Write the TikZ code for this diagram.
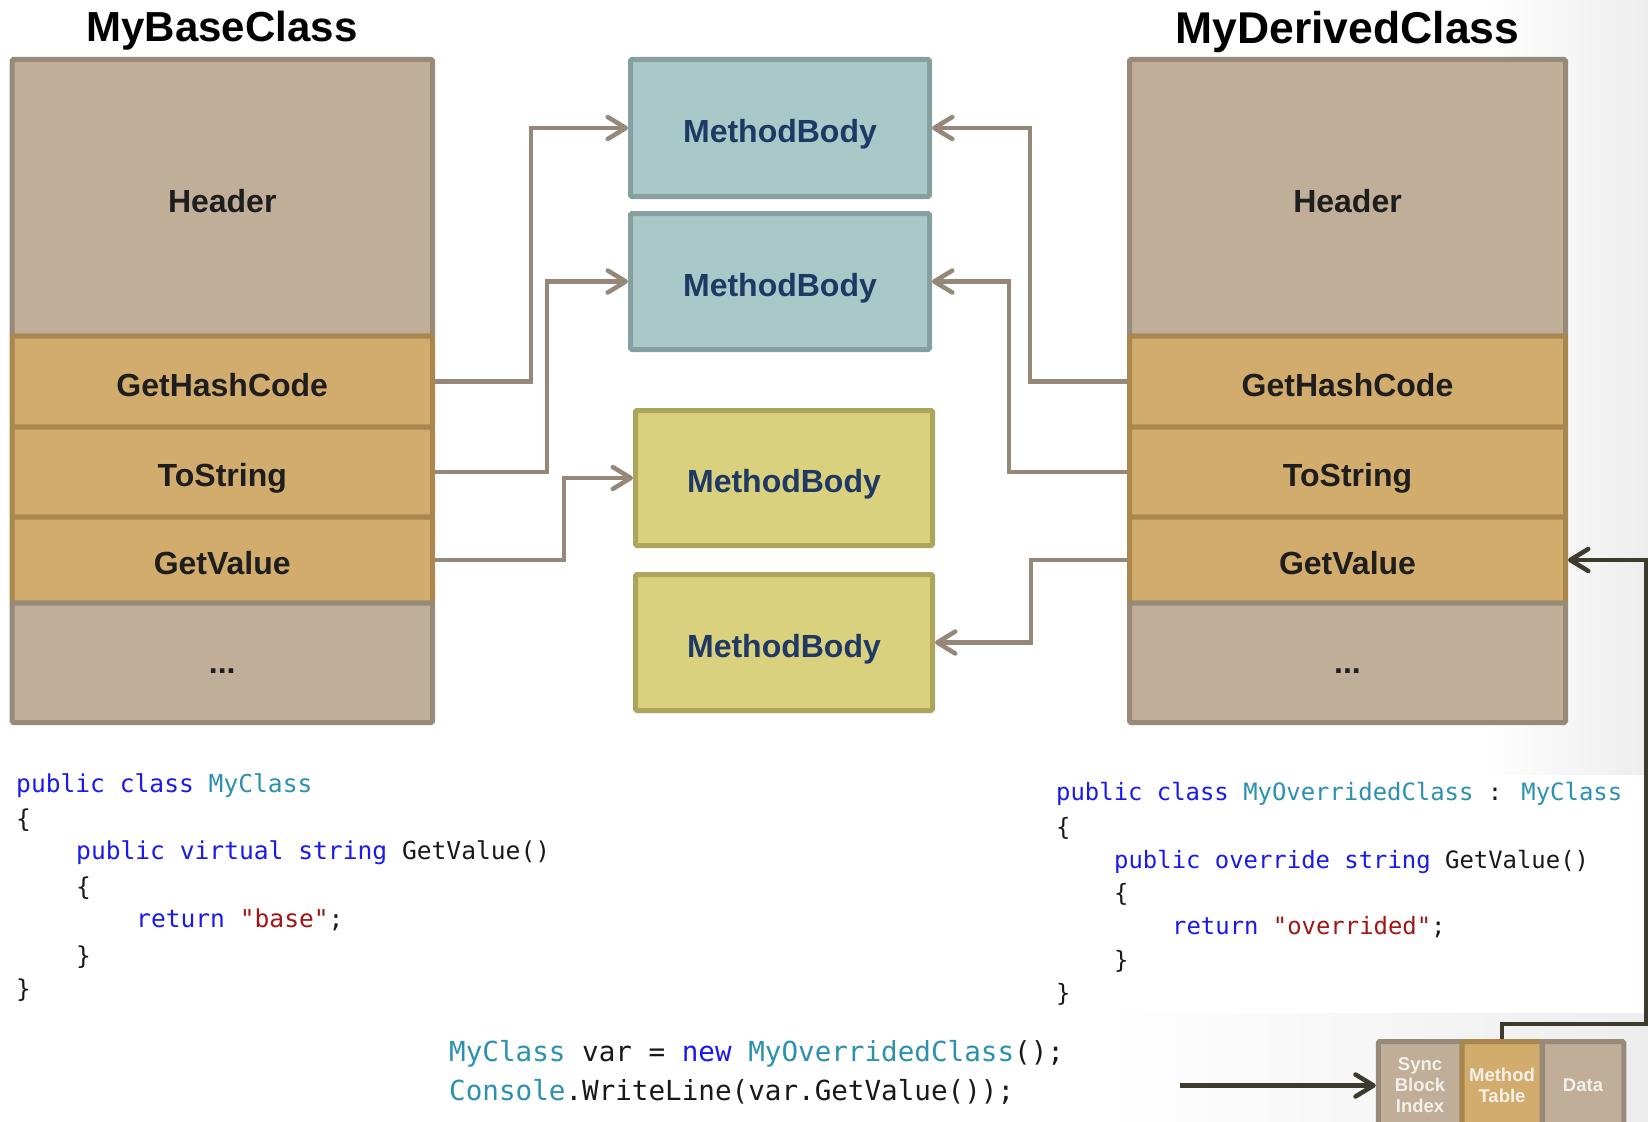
\documentclass[tikz,border=0pt]{standalone}
\usepackage{fontspec}
\setmainfont{Liberation Sans}
\newfontfamily\codefont{DejaVu Sans Mono}
\usetikzlibrary{arrows.meta}

\definecolor{slotgray}{HTML}{C0AE99}
\definecolor{slotgrayline}{HTML}{978A78}
\definecolor{slottan}{HTML}{D2AC6D}
\definecolor{slottanline}{HTML}{A8884F}
\definecolor{bodyteal}{HTML}{ABC8C8}
\definecolor{bodytealline}{HTML}{86A09F}
\definecolor{bodyyel}{HTML}{D9D17D}
\definecolor{bodyyelline}{HTML}{ADA55B}
\definecolor{bodytext}{HTML}{1F3864}
\definecolor{labeltext}{HTML}{1E1E1E}
\definecolor{connline}{HTML}{968878}
\definecolor{darkline}{HTML}{3D3A2E}
\definecolor{objtext}{HTML}{F3F0EA}
\definecolor{kw}{HTML}{1A1AF0}
\definecolor{ty}{HTML}{2B91AF}
\definecolor{str}{HTML}{A31515}

\tikzset{
  slot/.style={draw, line width=5pt, inner sep=0pt, rounded corners=1.5pt,
    text=labeltext, text height=29pt, text depth=0pt,
    font=\fontsize{32}{38}\selectfont\bfseries},
  hdr/.style={slot, fill=slotgray, draw=slotgrayline},
  dots/.style={hdr, text height=22pt},
  mrow/.style={slot, fill=slottan, draw=slottanline},
  mbody/.style={slot, text=bodytext, minimum width=299pt, minimum height=136pt},
  mbteal/.style={mbody, fill=bodyteal, draw=bodytealline},
  mbyel/.style={mbody, fill=bodyyel, draw=bodyyelline, minimum width=297pt},
  ttl/.style={inner sep=0pt, anchor=base, text=black,
    font=\fontsize{42}{48}\selectfont\bfseries},
  conn/.style={draw=connline, line width=4.5pt,
    -{Straight Barb[length=18pt,width=22pt,round]}},
  darkconn/.style={draw=darkline, line width=4.5pt,
    -{Straight Barb[length=18pt,width=22pt,round]}},
  objbox/.style={draw, line width=5pt, inner sep=0pt, rounded corners=1.5pt,
    minimum height=88pt, align=center, text=objtext,
    font=\fontsize{18.5}{21}\selectfont\bfseries},
  codeL/.style={anchor=base west, inner sep=0pt, text=black!90,
    font=\codefont\fontsize{24.6}{30}\selectfont},
  codeR/.style={codeL, font=\codefont\fontsize{23.9}{30}\selectfont},
  codeB/.style={codeL, font=\codefont\fontsize{27.6}{34}\selectfont},
}

\begin{document}
\begin{tikzpicture}[x=1pt, y=-1pt]
  \useasboundingbox (0,0) rectangle (1648,1121);
  \clip (0,0) rectangle (1648,1121);
  \fill[white] (0,0) rectangle (1648,1121);
  % soft grey edge of the slide
  \shade[left color=white, right color=black!7] (1480,0) rectangle (1648,1121);
  \shade[left color=white, right color=black!7] (1100,1013) rectangle (1648,1121);
  \fill[white] (1040,775) rectangle (1648,1013);

  % titles
  \node[ttl] (tbase) at (222,41.5) {MyBaseClass};
  \node[ttl, font=\fontsize{44.5}{50}\selectfont\bfseries] (tderived) at (1347.5,43.5) {MyDerivedClass};

  % method table of the base class
  \node[hdr,  minimum width=420.5pt, minimum height=276.5pt] (lH)   at (222.25,197.75) {Header};
  \node[mrow, minimum width=420.5pt, minimum height=91pt]    (lGHC) at (222.25,381.5)  {GetHashCode};
  \node[mrow, minimum width=420.5pt, minimum height=90pt]    (lTS)  at (222.25,472)    {ToString};
  \node[mrow, minimum width=420.5pt, minimum height=86pt]    (lGV)  at (222.25,560)    {GetValue};
  \node[dots, minimum width=420.5pt, minimum height=119.5pt] (lDot) at (222.25,662.75) {...};

  % method table of the derived class
  \node[hdr,  minimum width=436pt, minimum height=276.5pt] (rH)   at (1347.5,197.75) {Header};
  \node[mrow, minimum width=436pt, minimum height=91pt]    (rGHC) at (1347.5,381.5)  {GetHashCode};
  \node[mrow, minimum width=436pt, minimum height=90pt]    (rTS)  at (1347.5,472)    {ToString};
  \node[mrow, minimum width=436pt, minimum height=86pt]    (rGV)  at (1347.5,560)    {GetValue};
  \node[dots, minimum width=436pt, minimum height=119.5pt] (rDot) at (1347.5,662.75) {...};

  % method bodies
  \node[mbteal, minimum height=137pt] (mb1) at (780,128)   {MethodBody};
  \node[mbteal]                       (mb2) at (780,281.5) {MethodBody};
  \node[mbyel, minimum height=135pt]  (mb3) at (784,478)   {MethodBody};
  \node[mbyel]                        (mb4) at (784,642.5) {MethodBody};

  % slot -> body links
  \coordinate (jl1) at (531,0);
  \coordinate (jl2) at (547,0);
  \coordinate (jl3) at (564,0);
  \coordinate (jr1) at (1030,0);
  \coordinate (jr2) at (1009,0);
  \coordinate (jr3) at (1031,0);
  \draw[conn] (lGHC.east) -- (lGHC.east -| jl1) |- (mb1.west);
  \draw[conn] (lTS.east)  -- (lTS.east -| jl2)  |- (mb2.west);
  \draw[conn] (lGV.east)  -- (lGV.east -| jl3)  |- (mb3.west);
  \draw[conn] (rGHC.west) -- (rGHC.west -| jr1) |- (mb1.east);
  \draw[conn] (rTS.west)  -- (rTS.west -| jr2)  |- (mb2.east);
  \draw[conn] (rGV.west)  -- (rGV.west -| jr3)  |- (mb4.east);

  % object layout on the heap
  \node[objbox, fill=slotgray, draw=slotgrayline, minimum width=83.5pt] (sbi) at (1420,1085.5) {Sync\\Block\\Index};
  \node[objbox, fill=slottan, draw=slottanline, minimum width=80pt]    (mt)  at (1502,1085.5) {Method\\Table};
  \node[objbox, fill=slotgray, draw=slotgrayline, minimum width=81.5pt] (dat) at (1583,1085.5) {Data};

  \coordinate (objref) at (1180,1085.5);
  \coordinate (mtbend) at (1646,1024);
  \draw[darkconn] (objref) -- (sbi.west);
  \draw[darkconn] (mt.north) |- (mtbend) |- (rGV.east);

  % base class source
  \node[codeL] (cl1) at (16,792)  {\textcolor{kw}{public class} \textcolor{ty}{MyClass}};
  \node[codeL] (cl2) at (16,827)  {\{};
  \node[codeL] (cl3) at (76,859)  {\textcolor{kw}{public virtual string} GetValue()};
  \node[codeL] (cl4) at (76,895)  {\{};
  \node[codeL] (cl5) at (136,927) {\textcolor{kw}{return} \textcolor{str}{"base"};};
  \node[codeL] (cl6) at (76,964)  {\}};
  \node[codeL] (cl7) at (16,997)  {\}};

  % derived class source
  \node[codeR] (cr1) at (1056,800)  {\textcolor{kw}{public class} \textcolor{ty}{MyOverridedClass} : \textcolor{ty}{MyClass}};
  \node[codeR] (cr2) at (1056,835)  {\{};
  \node[codeR] (cr3) at (1114,868)  {\textcolor{kw}{public override string} GetValue()};
  \node[codeR] (cr4) at (1114,901)  {\{};
  \node[codeR] (cr5) at (1172,934)  {\textcolor{kw}{return} \textcolor{str}{"overrided"};};
  \node[codeR] (cr6) at (1114,968)  {\}};
  \node[codeR] (cr7) at (1056,1001) {\}};

  % call site
  \node[codeB] (cb1) at (449,1061.5) {\textcolor{ty}{MyClass} var = \textcolor{kw}{new} \textcolor{ty}{MyOverridedClass}();};
  \node[codeB] (cb2) at (449,1100.5) {\textcolor{ty}{Console}.WriteLine(var.GetValue());};
\end{tikzpicture}
\end{document}
